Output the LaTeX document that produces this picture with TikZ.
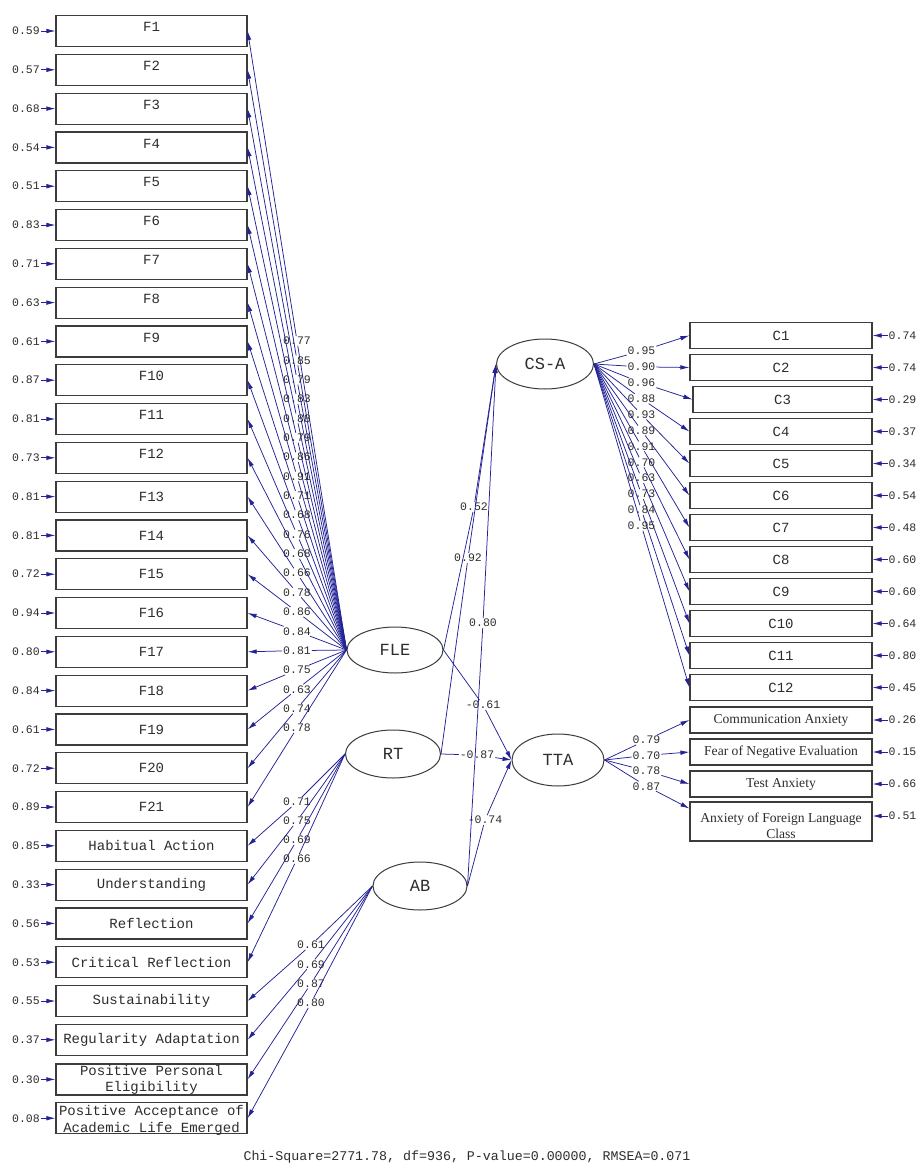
\documentclass[tikz,border=0pt]{standalone}
\usepackage{fontspec}
\setmainfont{Liberation Serif}
\newfontfamily\cour{Liberation Mono}
\usetikzlibrary{shapes.geometric,arrows.meta}
\definecolor{lis}{RGB}{35,35,150}
\definecolor{boxc}{RGB}{60,60,60}
\definecolor{txt}{RGB}{45,45,45}
\tikzset{
  lbox/.style={draw=boxc, line width=1.2pt, minimum width=191pt, minimum height=31pt, inner sep=0pt, text=txt, font=\cour\fontsize{14}{16}\selectfont},
  rbox/.style={draw=boxc, line width=1.2pt, minimum width=182pt, minimum height=26pt, inner sep=0pt, text=txt, font=\cour\fontsize{14}{16}\selectfont},
  tbox/.style={rbox, font=\fontsize{13.6}{16}\selectfont},
  lat/.style={draw=boxc, line width=1pt, ellipse, inner sep=0pt, text=txt, font=\cour\fontsize{17}{20}\selectfont},
  coef/.style={font=\cour\fontsize{11.5}{13}\selectfont, text=txt, inner sep=0.8pt},
  pth/.style={draw=lis, line width=0.75pt},
  arr/.style={pth, -{Latex[length=9pt,width=4.6pt]}}
}
\begin{document}
\begin{tikzpicture}[x=1pt,y=-1pt]
\fill[white] (0,0) rectangle (921,1167);
\useasboundingbox (0,0) rectangle (921,1167);

% latent variables
\node[lat, minimum width=97pt, minimum height=50pt] (CSA) at (545,364) {CS-A};
\node[lat, minimum width=96pt, minimum height=46pt] (FLE) at (395,650) {FLE};
\node[lat, minimum width=95pt, minimum height=48pt] (RT)  at (393,754) {RT};
\node[lat, minimum width=94pt, minimum height=48pt] (AB)  at (420,886) {AB};
\node[lat, minimum width=92pt, minimum height=52pt] (TTA) at (558,760) {TTA};

% left indicators
\foreach \lab/\err [count=\i] in {F1/0.59,F2/0.57,F3/0.68,F4/0.54,F5/0.51,F6/0.83,F7/0.71,F8/0.63,F9/0.61,F10/0.87,F11/0.81,F12/0.73,F13/0.81,F14/0.81,F15/0.72,F16/0.94,F17/0.80,F18/0.84,F19/0.61,F20/0.72,F21/0.89,Habitual Action/0.85,Understanding/0.33,Reflection/0.56,Critical Reflection/0.53,Sustainability/0.55,Regularity Adaptation/0.37}{
  \pgfmathsetmacro\yy{31+38.8*(\i-1)}
  \node[lbox] (L\i) at (151.5,\yy) {\ifnum\i<13 \raisebox{8pt}{\lab}\else\lab\fi};
  \node[coef] (e\i) at (26,\yy) {\err};
  \draw[arr] (e\i) -- (L\i);
}
\node[lbox] (L28) at (151.5,1079.4) {\raisebox{-4.5pt}[0pt][0pt]{\begin{tabular}{@{}c@{}}Positive Personal\\[0.5pt]Eligibility\end{tabular}}};
\node[coef] (e28) at (26,1079.4) {0.30};
\draw[arr] (e28) -- (L28);
\node[lbox] (L29) at (151.5,1118.2) {\raisebox{-6pt}[0pt][0pt]{\begin{tabular}{@{}c@{}}Positive Acceptance of\\[0.5pt]Academic Life Emerged\end{tabular}}};
\node[coef] (e29) at (26,1118.2) {0.08};
\draw[arr] (e29) -- (L29);

% FLE loadings
\foreach \v [count=\k] in {0.77,0.85,0.79,0.83,0.88,0.79,0.86,0.91,0.71,0.68,0.76,0.68,0.66,0.78,0.86,0.84,0.81,0.75,0.63,0.74,0.78}{
  \pgfmathsetmacro\yy{341+19.35*(\k-1)}
  \node[coef] (fl\k) at (297,\yy) {\v};
  \draw[pth] (FLE.west) -- (fl\k);
  \draw[arr] (fl\k) -- (L\k.east);
}
% RT loadings
\foreach \v [count=\k] in {0.71,0.75,0.69,0.66}{
  \pgfmathsetmacro\yy{802+19*(\k-1)}
  \pgfmathtruncatemacro\t{21+\k}
  \node[coef] (rl\k) at (297,\yy) {\v};
  \draw[pth] (RT.west) -- (rl\k);
  \draw[arr] (rl\k) -- (L\t.east);
}
% AB loadings
\foreach \v [count=\k] in {0.61,0.69,0.87,0.80}{
  \pgfmathsetmacro\yy{945+19.3*(\k-1)}
  \pgfmathtruncatemacro\t{25+\k}
  \node[coef] (al\k) at (311,\yy) {\v};
  \draw[pth] (AB.west) -- (al\k);
  \draw[arr] (al\k) -- (L\t.east);
}

% right indicators of CS-A
\foreach \lab/\lo/\err [count=\j] in {C1/0.95/0.74,C2/0.90/0.74,C3/0.96/0.29,C4/0.88/0.37,C5/0.93/0.34,C6/0.89/0.54,C7/0.91/0.48,C8/0.70/0.60,C9/0.63/0.60,C10/0.73/0.64,C11/0.84/0.80,C12/0.95/0.45}{
  \pgfmathsetmacro\yy{335.5+32*(\j-1)}
  \pgfmathsetmacro\ly{351+15.9*(\j-1)}
  \ifnum\j=3
    \node[rbox, minimum width=179pt] (R\j) at (782.5,\yy) {\lab};
  \else
    \node[rbox] (R\j) at (781,\yy) {\lab};
  \fi
  \node[coef] (re\j) at (902.5,\yy) {\err};
  \draw[arr] (re\j) -- (R\j);
  \node[coef] (cl\j) at (641.5,\ly) {\lo};
  \draw[pth] (CSA.east) -- (cl\j);
  \draw[arr] (cl\j) -- (R\j.west);
}

% right indicators of TTA
\node[tbox] (T1) at (781,720) {Communication Anxiety};
\node[tbox] (T2) at (781,752) {Fear of Negative Evaluation};
\node[tbox] (T3) at (781,784) {Test Anxiety};
\node[tbox, minimum height=39pt] (T4) at (781,821.5) {\raisebox{-9.5pt}[0pt][0pt]{\begin{tabular}{@{}c@{}}Anxiety of Foreign Language\\[0pt]Class\end{tabular}}};
\foreach \lo [count=\j] in {0.79,0.70,0.78}{
  \pgfmathsetmacro\ly{740+15.4*(\j-1)}
  \node[coef] (tl\j) at (646.5,\ly) {\lo};
  \draw[pth] (TTA.east) -- (tl\j);
  \draw[arr] (tl\j) -- (T\j.west);
}
\node[coef] (tl4) at (646.5,786.2) {0.87};
\draw[pth] (TTA.east) -- (tl4);
\draw[arr] (tl4) -- ([yshift=13pt]T4.west);
\foreach \err [count=\j] in {0.26,0.15,0.66}{
  \pgfmathsetmacro\ey{720+32*(\j-1)}
  \node[coef] (te\j) at (902.5,\ey) {\err};
  \draw[arr] (te\j) -- (T\j);
}
\node[coef] (te4) at (902.5,816) {0.51};
\draw[arr] (te4) -- (te4 -| T4.east);

% structural paths
\node[coef] (p1) at (474,507) {0.52};
\node[coef] (p2) at (468,558) {0.92};
\node[coef] (p3) at (483,623) {0.80};
\node[coef] (p4) at (483,705) {-0.61};
\node[coef] (p5) at (477,755) {-0.87};
\node[coef] (p6) at (485,820) {-0.74};
\draw[pth] (FLE.east) -- (p1); \draw[arr] (p1) -- (CSA.west);
\draw[pth] (RT.east) -- (p2);  \draw[arr] (p2) -- (CSA.west);
\draw[pth] (AB.east) -- (p3);  \draw[arr] (p3) -- (CSA.west);
\draw[pth] (FLE.east) -- (p4); \draw[arr] (p4) -- (TTA.west);
\draw[pth] (RT.east) -- (p5);  \draw[arr] (p5) -- (TTA.west);
\draw[pth] (AB.east) -- (p6);  \draw[arr] (p6) -- (TTA.west);

% fit statistics
\node[font=\cour\fontsize{13.3}{15}\selectfont, text=txt] (fit) at (467,1157) {Chi-Square=2771.78, df=936, P-value=0.00000, RMSEA=0.071};
\end{tikzpicture}
\end{document}
